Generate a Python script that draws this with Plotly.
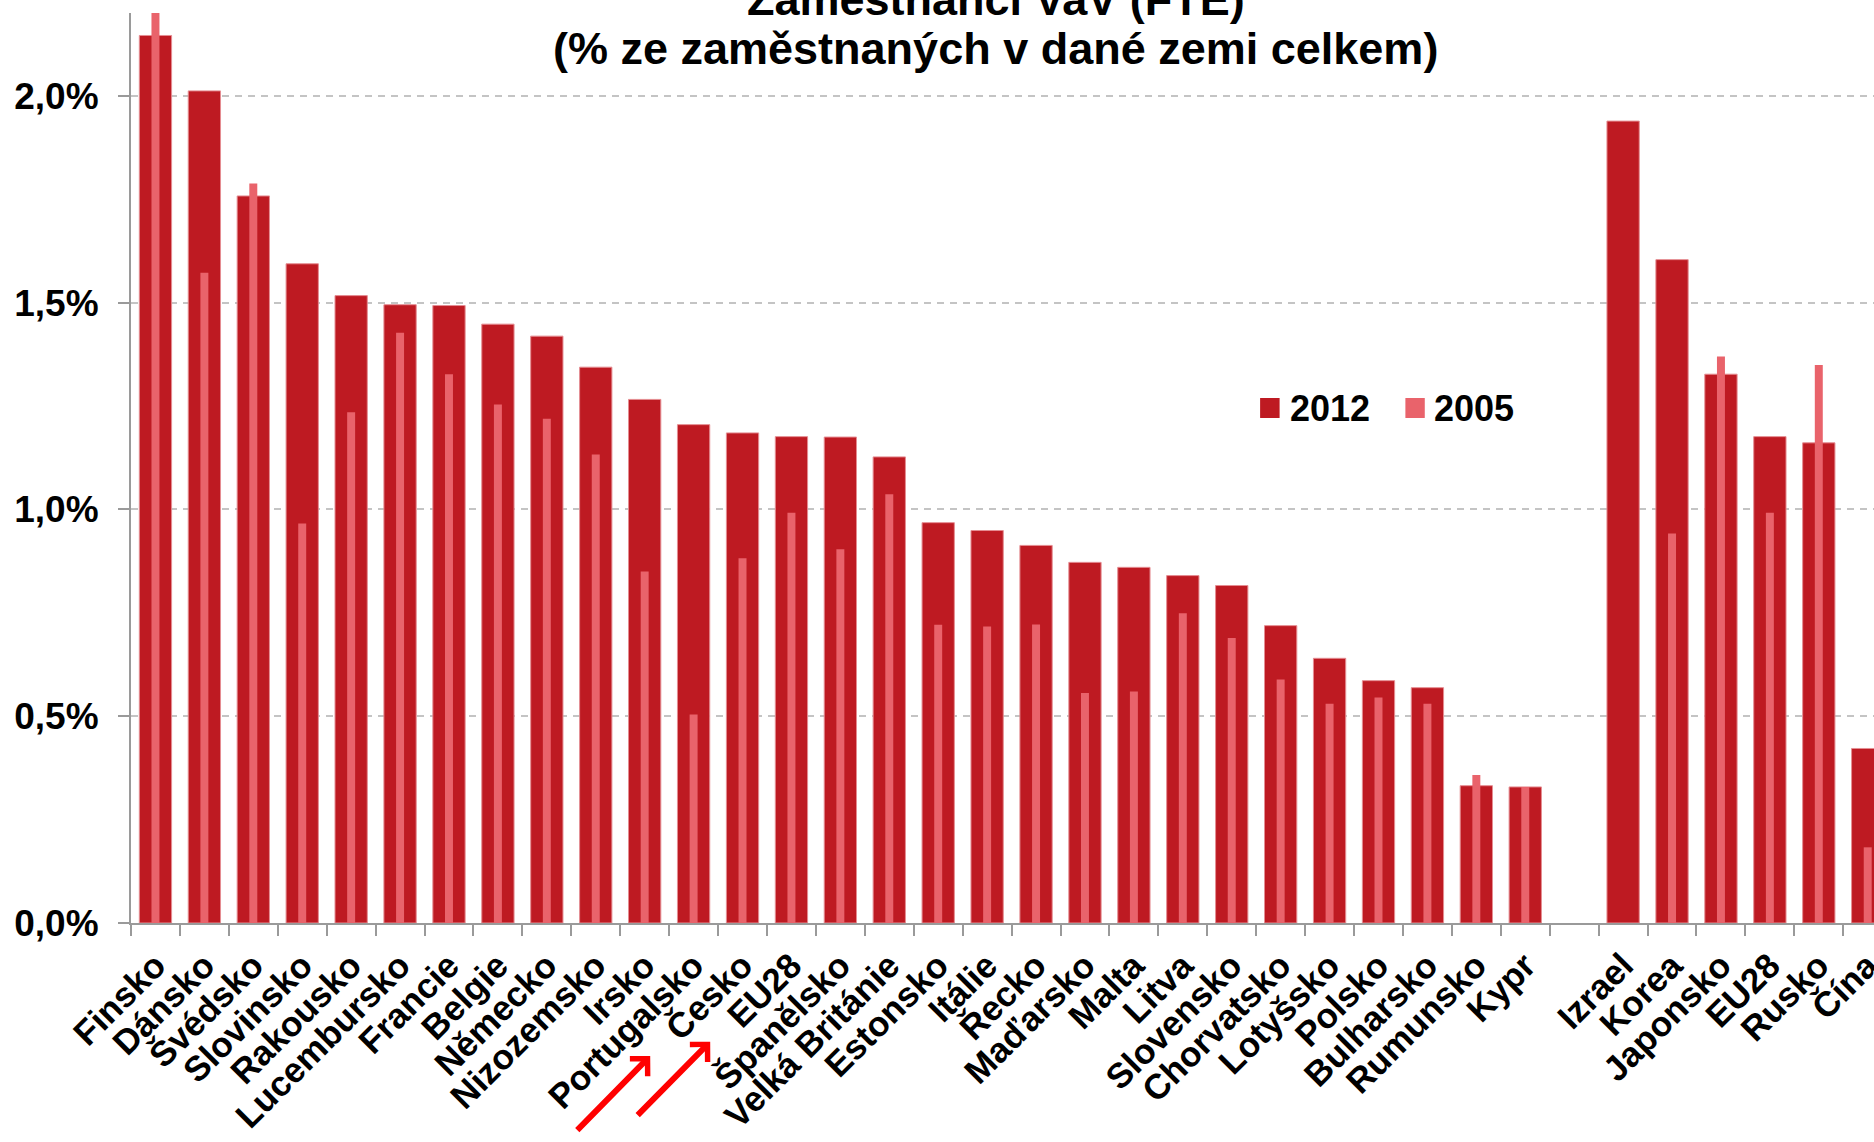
import plotly.graph_objects as go

# ---------------- data ----------------
countries_eu = ["Finsko", "Dánsko", "Švédsko", "Slovinsko", "Rakousko", "Lucembursko",
                "Francie", "Belgie", "Německo", "Nizozemsko", "Irsko", "Portugalsko",
                "Česko", "EU28", "Španělsko", "Velká Británie", "Estonsko", "Itálie",
                "Řecko", "Maďarsko", "Malta", "Litva", "Slovensko", "Chorvatsko",
                "Lotyšsko", "Polsko", "Bulharsko", "Rumunsko", "Kypr"]
countries_world = ["Izrael", "Korea", "Japonsko", "EU28", "Rusko", "Čína"]

v2012_eu = [2.146, 2.012, 1.758, 1.594, 1.517, 1.495, 1.493, 1.448, 1.419, 1.344,
            1.266, 1.205, 1.185, 1.176, 1.175, 1.127, 0.968, 0.949, 0.913, 0.872,
            0.860, 0.840, 0.816, 0.719, 0.640, 0.586, 0.569, 0.332, 0.329]
v2005_eu = [2.25, 1.572, 1.788, 0.966, 1.235, 1.427, 1.327, 1.254, 1.219, 1.133,
            0.850, 0.504, 0.882, 0.992, 0.904, 1.037, 0.721, 0.717, 0.722, 0.556,
            0.560, 0.749, 0.689, 0.589, 0.530, 0.545, 0.530, 0.358, 0.329]
v2012_world = [1.939, 1.604, 1.327, 1.176, 1.161, 0.422]
v2005_world = [None, 0.942, 1.370, 0.992, 1.349, 0.183]

ytick_vals = [0.0, 0.5, 1.0, 1.5, 2.0]
ytick_text = ["0,0%", "0,5%", "1,0%", "1,5%", "2,0%"]

series_names = ["2012", "2005"]
title_line1 = "Zaměstnanci VaV (FTE)"
title_line2 = "(% ze zaměstnaných v dané zemi celkem)"

# ---------------- layout geometry ----------------
FIG_W, FIG_H = 1874, 1142
L, T, B = 130.7, 12.5, 923.0
W, H = FIG_W - L, B - T

def px(x):
    return (x - L) / W

def py(y):
    return (B - y) / H

C2012 = "#BE1A22"
C2005 = "#E9636B"
GRAY = "#9A9A9A"
FONT = "Liberation Sans, Arial, sans-serif"

x_eu = list(range(len(countries_eu)))
x_world = list(range(len(countries_eu) + 1, len(countries_eu) + 1 + len(countries_world)))
x_all = x_eu + x_world
labels_all = countries_eu + countries_world
n_slots = len(countries_eu) + 1 + len(countries_world)

fig = go.Figure()
fig.add_trace(go.Bar(x=x_all, y=v2012_eu + v2012_world, width=0.66, name=series_names[0],
                     marker=dict(color=C2012, line=dict(color="#E58D92", width=1))))
fig.add_trace(go.Bar(x=x_all, y=v2005_eu + v2005_world, width=0.163, name=series_names[1],
                     marker=dict(color=C2005, line=dict(width=0))))

slot_px = 48.93
x_right = W / slot_px - 0.5

fig.update_layout(
    width=FIG_W, height=FIG_H,
    template="none",
    barmode="overlay",
    showlegend=False,
    plot_bgcolor="white", paper_bgcolor="white",
    margin=dict(l=L, r=0, t=T, b=FIG_H - B, pad=0),
    font=dict(family=FONT, color="black"),
    xaxis=dict(
        range=[-0.5, x_right], autorange=False,
        tickmode="array", tickvals=x_all, ticktext=labels_all,
        tickangle=-45, ticks="",
        tickfont=dict(family=FONT, size=35, color="black", weight="bold"),
        ticklabelstandoff=6, ticklabeloverflow="allow",
        showline=True, linecolor=GRAY, linewidth=2,
        showgrid=False, zeroline=False, automargin=False,
        minor=dict(tickmode="array", tickvals=[i - 0.5 for i in range(n_slots + 1)],
                   ticks="outside", ticklen=11, tickwidth=2, tickcolor=GRAY, showgrid=False),
    ),
    yaxis=dict(
        range=[0, (B - T) / 413.8], autorange=False,
        tickmode="array", tickvals=ytick_vals, ticktext=ytick_text,
        ticks="outside", ticklen=11, tickwidth=2, tickcolor=GRAY,
        tickfont=dict(family=FONT, size=37, color="black", weight="bold"),
        ticklabelstandoff=12,
        showline=True, linecolor=GRAY, linewidth=2,
        showgrid=True, gridcolor="#C4C4C4", gridwidth=2, griddash="7px,6px",
        zeroline=False, automargin=False,
    ),
)

annotations = [
    dict(text=title_line1, x=px(995.5), y=py(-0.6), xref="paper", yref="paper",
         xanchor="center", yanchor="middle", showarrow=False,
         font=dict(family=FONT, size=45, color="black", weight="bold")),
    dict(text=title_line2, x=px(995.5), y=py(47.7), xref="paper", yref="paper",
         xanchor="center", yanchor="middle", showarrow=False,
         font=dict(family=FONT, size=45, color="black", weight="bold")),
    dict(text=series_names[0], x=px(1288), y=py(408), xref="paper", yref="paper",
         xanchor="left", yanchor="middle", showarrow=False,
         font=dict(family=FONT, size=36, color="black", weight="bold")),
    dict(text=series_names[1], x=px(1431.5), y=py(408), xref="paper", yref="paper",
         xanchor="left", yanchor="middle", showarrow=False,
         font=dict(family=FONT, size=36, color="black", weight="bold")),
    dict(text="", x=px(650), y=py(1056), xref="paper", yref="paper",
         ax=-74.4, ay=75.7, axref="pixel", ayref="pixel", showarrow=True,
         arrowhead=4, arrowsize=0.8, arrowwidth=6, arrowcolor="#FF0000", standoff=0),
    dict(text="", x=px(710), y=py(1041.7), xref="paper", yref="paper",
         ax=-74, ay=75, axref="pixel", ayref="pixel", showarrow=True,
         arrowhead=4, arrowsize=0.8, arrowwidth=6, arrowcolor="#FF0000", standoff=0),
]
fig.update_layout(annotations=annotations)

shapes = [
    dict(type="rect", xref="paper", yref="paper", x0=px(1260), x1=px(1279.5),
         y0=py(417.7), y1=py(397.7), fillcolor=C2012, line=dict(width=0)),
    dict(type="rect", xref="paper", yref="paper", x0=px(1405.3), x1=px(1424.7),
         y0=py(417.7), y1=py(397.7), fillcolor=C2005, line=dict(width=0)),
]
fig.update_layout(shapes=shapes)

fig.write_html("out.html", config={"displayModeBar": False},
               post_script="document.body.style.margin='0';document.body.style.overflow='hidden';")
